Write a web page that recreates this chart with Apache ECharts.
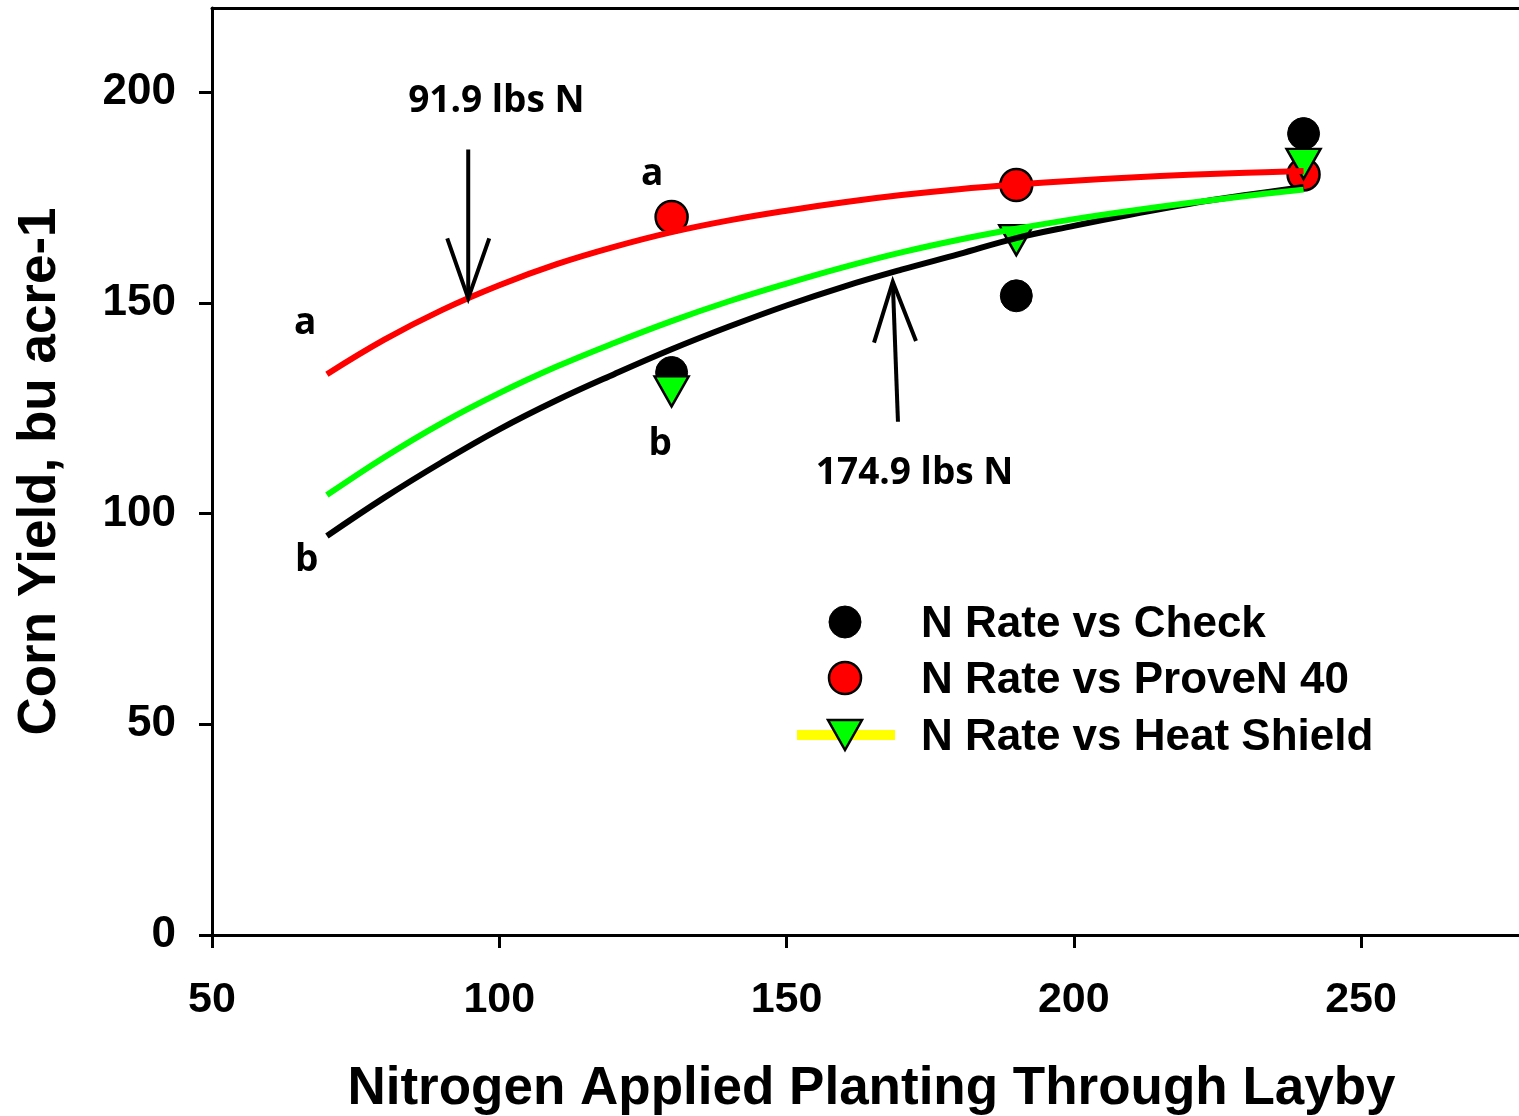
<!DOCTYPE html>
<html>
<head>
<meta charset="utf-8">
<script src="https://cdn.jsdelivr.net/npm/echarts@6/dist/echarts.min.js"></script>
<style>
  html, body { margin: 0; padding: 0; background: #ffffff; }
  #chart { width: 1519px; height: 1116px; }
</style>
</head>
<body>
<div id="chart"></div>
<script>
// Axis ticks
const xTicks = [50, 100, 150, 200, 250];
const yTicks = [0, 50, 100, 150, 200];

// Observed treatment means (N rate, lbs N/acre -> yield, bu/acre)
const nRates = [130, 190, 240];
const checkYield = [133.5, 151.7, 190.2];
const provenYield = [170.4, 178.0, 180.5];
const heatShieldYield = [129.0, 164.9, 183.0];

// Fitted response curves
const fitRates = [70, 80, 90, 100, 110, 120, 130, 140, 150, 160, 170, 180, 190, 200, 210, 220, 230, 240];
const checkFit = [94.7, 103.8, 112.2, 120.0, 126.9, 133.1, 139.0, 144.4, 149.4, 153.9, 157.9, 161.6, 165.4, 168.3, 171.0, 173.5, 175.6, 177.5];
const provenFit = [133.1, 141.3, 148.3, 154.2, 159.2, 163.3, 166.8, 169.6, 171.9, 173.9, 175.6, 177.0, 178.1, 179.0, 179.8, 180.4, 180.9, 181.3];
const heatShieldFit = [104.4, 113.4, 121.5, 128.6, 134.9, 140.5, 145.7, 150.4, 154.6, 158.5, 162.0, 165.0, 167.6, 169.9, 171.9, 173.7, 175.4, 176.9];

// Optimum-rate arrows: [tipX, tipY, tailX, tailY]
const optimumArrows = [
  [94.6, 151.1, 94.6, 186.4],
  [168.5, 155.0, 169.4, 121.8]
];

// Text annotations: [x, y, text]
const annotations = [
  [99.5, 197.9, '91.9 lbs N'],
  [172.3, 109.6, '174.9 lbs N'],
  [66.2, 145.1, 'a'],
  [126.6, 180.5, 'a'],
  [66.5, 88.8, 'b'],
  [128.0, 116.4, 'b']
];

const legendItems = ['N Rate vs Check', 'N Rate vs ProveN 40', 'N Rate vs Heat Shield'];

const AXIS_FONT = '"Liberation Sans", Arial, sans-serif';
const NOTE_FONT = '"Open Sans", Lato, sans-serif';

const pairs = (xs, ys) => xs.map((x, i) => [x, ys[i]]);

const chart = echarts.init(document.getElementById('chart'), null, { renderer: 'canvas' });

const axisLineStyle = { color: '#000', width: 3 };

const legendX = 845, legendTextX = 921, legendRows = [622, 678, 735];

const option = {
  backgroundColor: '#ffffff',
  animation: false,
  grid: { left: 212, top: 8, right: 0, bottom: 181, containLabel: false, outerBoundsMode: 'none' },
  xAxis: [
    {
      type: 'value', min: 50, max: 277.5, interval: 50, position: 'bottom',
      name: 'Nitrogen Applied Planting Through Layby',
      nameLocation: 'middle', nameGap: 128,
      nameTextStyle: { fontFamily: AXIS_FONT, fontWeight: 'bold', fontSize: 53, color: '#000', padding: [0, 0, 0, 12] },
      axisLine: { show: true, onZero: false, lineStyle: axisLineStyle },
      axisTick: { show: true, inside: false, length: 13, lineStyle: axisLineStyle, customValues: xTicks },
      axisLabel: { show: true, margin: 44, fontFamily: AXIS_FONT, fontWeight: 'bold', fontSize: 43, color: '#000', customValues: xTicks },
      splitLine: { show: false }
    },
    {
      type: 'value', min: 50, max: 277.5, position: 'top',
      axisLine: { show: true, onZero: false, lineStyle: axisLineStyle },
      axisTick: { show: false }, axisLabel: { show: false }, splitLine: { show: false }
    }
  ],
  yAxis: {
    type: 'value', min: 0, max: 220, interval: 50,
    name: 'Corn Yield, bu acre-1',
    nameLocation: 'middle', nameGap: 145, nameRotate: 90,
    nameTextStyle: { fontFamily: AXIS_FONT, fontWeight: 'bold', fontSize: 53, color: '#000' },
    axisLine: { show: true, onZero: false, lineStyle: axisLineStyle },
    axisTick: { show: true, inside: false, length: 13, lineStyle: axisLineStyle, customValues: yTicks },
    axisLabel: { show: true, margin: 36, fontFamily: AXIS_FONT, fontWeight: 'bold', fontSize: 44, color: '#000', customValues: yTicks },
    splitLine: { show: false }
  },
  series: [
    {
      name: legendItems[0], type: 'scatter', data: pairs(nRates, checkYield),
      symbol: 'circle', symbolSize: 32,
      itemStyle: { color: '#000', borderColor: '#000', borderWidth: 1, opacity: 1 }, z: 2
    },
    {
      name: legendItems[1], type: 'scatter', data: pairs(nRates, provenYield),
      symbol: 'circle', symbolSize: 32,
      itemStyle: { color: '#ff0000', borderColor: '#000', borderWidth: 2.5, opacity: 1 }, z: 2
    },
    {
      name: legendItems[2], type: 'scatter', data: pairs(nRates, heatShieldYield),
      symbol: 'triangle', symbolRotate: 180, symbolSize: [34, 30],
      itemStyle: { color: '#00ff00', borderColor: '#000', borderWidth: 2.5, opacity: 1 }, z: 2
    },
    {
      type: 'line', data: pairs(fitRates, checkFit), symbol: 'none', smooth: 0.4,
      lineStyle: { color: '#000', width: 6, cap: 'butt' }, z: 3
    },
    {
      type: 'line', data: pairs(fitRates, heatShieldFit), symbol: 'none', smooth: 0.4,
      lineStyle: { color: '#00ff00', width: 6, cap: 'butt' }, z: 3
    },
    {
      type: 'line', data: pairs(fitRates, provenFit), symbol: 'none', smooth: 0.4,
      lineStyle: { color: '#ff0000', width: 6, cap: 'butt' }, z: 3
    },
    {
      type: 'custom', data: optimumArrows, clip: false, z: 4,
      encode: { x: [0, 2], y: [1, 3] },
      renderItem: function (params, api) {
        const tip = api.coord([api.value(0), api.value(1)]);
        const tail = api.coord([api.value(2), api.value(3)]);
        const dx = tip[0] - tail[0], dy = tip[1] - tail[1];
        const len = Math.sqrt(dx * dx + dy * dy);
        const ux = dx / len, uy = dy / len;
        const nx = -uy, ny = ux;
        const headLen = 60, headHalf = 21;
        const bx = tip[0] - ux * headLen, by = tip[1] - uy * headLen;
        const left = [bx + nx * headHalf, by + ny * headHalf];
        const right = [bx - nx * headHalf, by - ny * headHalf];
        return {
          type: 'group',
          children: [
            { type: 'line', shape: { x1: tail[0], y1: tail[1], x2: tip[0], y2: tip[1] },
              style: { stroke: '#000', lineWidth: 4 } },
            { type: 'polyline', shape: { points: [left, tip, right] },
              style: { stroke: '#000', lineWidth: 4, fill: null, lineJoin: 'miter' } }
          ]
        };
      }
    },
    {
      type: 'scatter', z: 5, silent: true,
      data: annotations.map(a => ({ value: [a[0], a[1]], name: a[2] })),
      symbol: 'circle', symbolSize: 1,
      itemStyle: { color: 'rgba(0,0,0,0)' },
      label: {
        show: true, position: 'inside', formatter: p => p.name,
        fontFamily: NOTE_FONT, fontWeight: 'bold', fontSize: 37, color: '#000',
        opacity: 1, textBorderWidth: 0
      }
    }
  ],
  graphic: [
    // Legend
    { type: 'circle', shape: { cx: legendX, cy: legendRows[0], r: 16 },
      style: { fill: '#000', stroke: '#000', lineWidth: 1 } },
    { type: 'circle', shape: { cx: legendX, cy: legendRows[1], r: 16 },
      style: { fill: '#ff0000', stroke: '#000', lineWidth: 2.5 } },
    { type: 'rect', shape: { x: 797, y: legendRows[2] - 5, width: 98, height: 10 },
      style: { fill: '#ffff00' } },
    { type: 'polygon',
      shape: { points: [[legendX - 17, legendRows[2] - 15], [legendX + 17, legendRows[2] - 15], [legendX, legendRows[2] + 15]] },
      style: { fill: '#00ff00', stroke: '#000', lineWidth: 2.5 } },
    ...legendItems.map((t, i) => ({
      type: 'text', x: legendTextX, y: legendRows[i] + 3,
      style: { text: t, fill: '#000', font: 'bold 44px ' + AXIS_FONT, verticalAlign: 'middle', align: 'left' }
    }))
  ]
};

chart.setOption(option);
</script>
</body>
</html>
